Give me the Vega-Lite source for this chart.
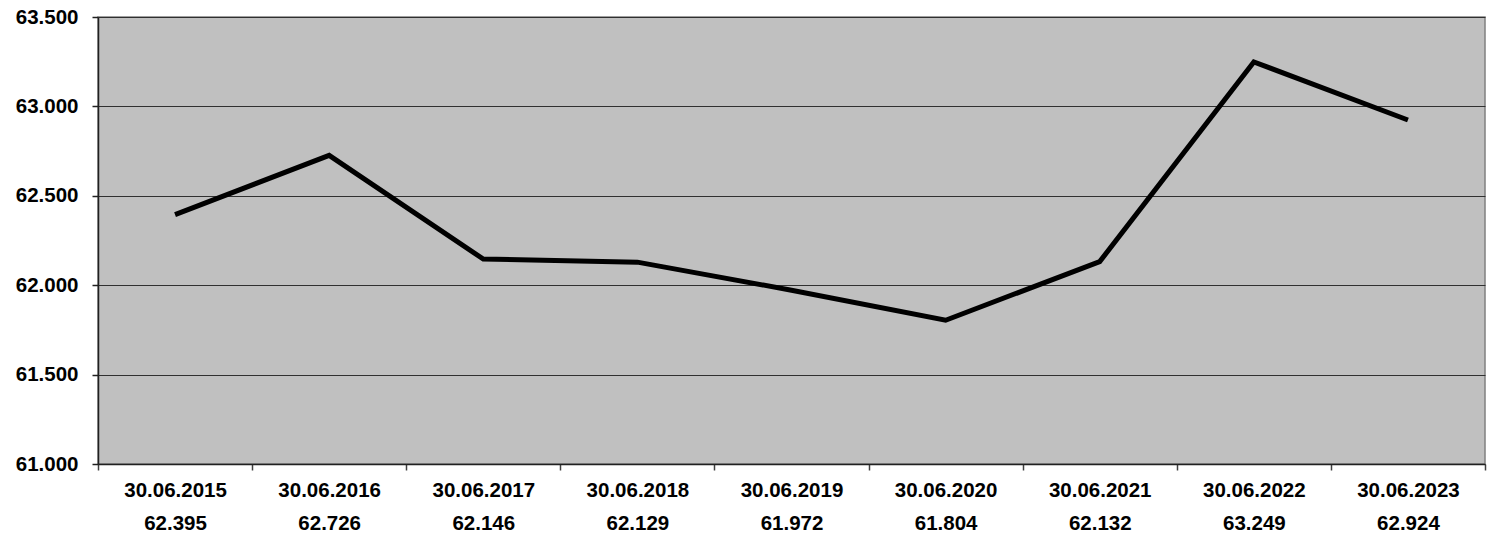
{
  "$schema": "https://vega.github.io/schema/vega-lite/v6.json",
  "autosize": {"type": "none"},
  "padding": {"left": 98, "top": 17, "right": 7, "bottom": 75},
  "width": 1387,
  "height": 447,
  "background": "white",
  "config": {
    "view": {"fill": "#C0C0C0", "stroke": "#808080", "strokeWidth": 1.5},
    "font": "Liberation Sans"
  },
  "data": {
    "values": [
      {"date": "30.06.2015", "label": "30.06.2015|62.395", "value": 62395},
      {"date": "30.06.2016", "label": "30.06.2016|62.726", "value": 62726},
      {"date": "30.06.2017", "label": "30.06.2017|62.146", "value": 62146},
      {"date": "30.06.2018", "label": "30.06.2018|62.129", "value": 62129},
      {"date": "30.06.2019", "label": "30.06.2019|61.972", "value": 61972},
      {"date": "30.06.2020", "label": "30.06.2020|61.804", "value": 61804},
      {"date": "30.06.2021", "label": "30.06.2021|62.132", "value": 62132},
      {"date": "30.06.2022", "label": "30.06.2022|63.249", "value": 63249},
      {"date": "30.06.2023", "label": "30.06.2023|62.924", "value": 62924}
    ]
  },
  "mark": {"type": "line", "color": "black", "strokeWidth": 5, "strokeJoin": "miter", "strokeCap": "butt"},
  "encoding": {
    "x": {
      "field": "label",
      "type": "nominal",
      "sort": null,
      "bandPosition": 0.5,
      "scale": {"type": "band", "paddingInner": 0, "paddingOuter": 0},
      "axis": {
        "title": null,
        "labelAngle": 0,
        "labelExpr": "split(datum.label, '|')",
        "labelFont": "Liberation Sans",
        "labelFontWeight": "bold",
        "labelFontSize": 20.5,
        "labelColor": "black",
        "labelLineHeight": 33,
        "labelPadding": 10,
        "labelBaseline": "top",
        "tickBand": "extent",
        "tickColor": "#404040",
        "tickSize": 6,
        "tickWidth": 1.5,
        "domainColor": "#202020",
        "domainWidth": 1.5,
        "grid": false
      }
    },
    "y": {
      "field": "value",
      "type": "quantitative",
      "scale": {"domain": [61000, 63500], "nice": false, "zero": false},
      "axis": {
        "title": null,
        "values": [61000, 61500, 62000, 62500, 63000, 63500],
        "format": ",d",
        "labelExpr": "replace(datum.label, ',', '.')",
        "labelFont": "Liberation Sans",
        "labelFontWeight": "bold",
        "labelFontSize": 20.5,
        "labelColor": "black",
        "labelPadding": 14,
        "tickColor": "#202020",
        "tickSize": 6,
        "tickWidth": 1.5,
        "domainColor": "#202020",
        "domainWidth": 1.5,
        "grid": true,
        "gridColor": "#303030",
        "gridWidth": 1,
        "gridOpacity": 1
      }
    }
  }
}
